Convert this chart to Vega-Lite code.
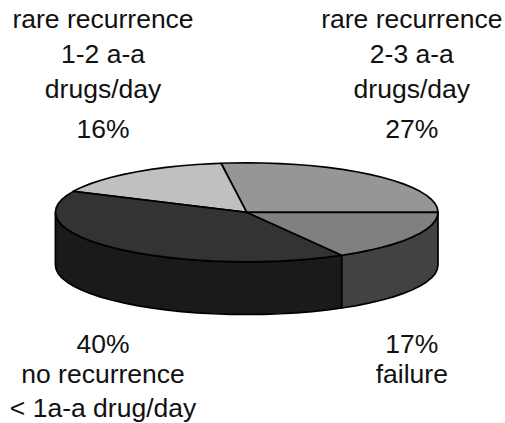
{"$schema":"https://vega.github.io/schema/vega-lite/v6.json","width":505,"height":423,"padding":0,"autosize":{"type":"fit","contains":"padding"},"background":"white","view":{"stroke":null},
"layer":[
{"data":{"values":[
{"part":"wall 40%","x":-1,"y":0},{"part":"wall 40%","x":-0.996,"y":-0.087},{"part":"wall 40%","x":-0.985,"y":-0.174},{"part":"wall 40%","x":-0.966,"y":-0.259},{"part":"wall 40%","x":-0.94,"y":-0.342},{"part":"wall 40%","x":-0.906,"y":-0.423},{"part":"wall 40%","x":-0.866,"y":-0.5},{"part":"wall 40%","x":-0.819,"y":-0.574},{"part":"wall 40%","x":-0.766,"y":-0.643},{"part":"wall 40%","x":-0.707,"y":-0.707},{"part":"wall 40%","x":-0.643,"y":-0.766},{"part":"wall 40%","x":-0.574,"y":-0.819},{"part":"wall 40%","x":-0.5,"y":-0.866},{"part":"wall 40%","x":-0.423,"y":-0.906},{"part":"wall 40%","x":-0.342,"y":-0.94},{"part":"wall 40%","x":-0.259,"y":-0.966},{"part":"wall 40%","x":-0.174,"y":-0.985},{"part":"wall 40%","x":-0.087,"y":-0.996},{"part":"wall 40%","x":0,"y":-1},{"part":"wall 40%","x":0.087,"y":-0.996},{"part":"wall 40%","x":0.174,"y":-0.985},{"part":"wall 40%","x":0.259,"y":-0.966},{"part":"wall 40%","x":0.342,"y":-0.94},{"part":"wall 40%","x":0.423,"y":-0.906},{"part":"wall 40%","x":0.497,"y":-0.868},
{"part":"wall 40%","x":0.497,"y":-1.933},{"part":"wall 40%","x":0.423,"y":-1.971},{"part":"wall 40%","x":0.342,"y":-2.005},{"part":"wall 40%","x":0.259,"y":-2.031},{"part":"wall 40%","x":0.174,"y":-2.05},{"part":"wall 40%","x":0.087,"y":-2.061},{"part":"wall 40%","x":0,"y":-2.065},{"part":"wall 40%","x":-0.087,"y":-2.061},{"part":"wall 40%","x":-0.174,"y":-2.05},{"part":"wall 40%","x":-0.259,"y":-2.031},{"part":"wall 40%","x":-0.342,"y":-2.005},{"part":"wall 40%","x":-0.423,"y":-1.971},{"part":"wall 40%","x":-0.5,"y":-1.931},{"part":"wall 40%","x":-0.574,"y":-1.884},{"part":"wall 40%","x":-0.643,"y":-1.831},{"part":"wall 40%","x":-0.707,"y":-1.772},{"part":"wall 40%","x":-0.766,"y":-1.708},{"part":"wall 40%","x":-0.819,"y":-1.639},{"part":"wall 40%","x":-0.866,"y":-1.565},{"part":"wall 40%","x":-0.906,"y":-1.488},{"part":"wall 40%","x":-0.94,"y":-1.407},{"part":"wall 40%","x":-0.966,"y":-1.324},{"part":"wall 40%","x":-0.985,"y":-1.239},{"part":"wall 40%","x":-0.996,"y":-1.152},{"part":"wall 40%","x":-1,"y":-1.065},{"part":"wall 40%","x":-1,"y":0},
{"part":"wall 17%","x":0.497,"y":-0.868},{"part":"wall 17%","x":0.574,"y":-0.819},{"part":"wall 17%","x":0.643,"y":-0.766},{"part":"wall 17%","x":0.707,"y":-0.707},{"part":"wall 17%","x":0.766,"y":-0.643},{"part":"wall 17%","x":0.819,"y":-0.574},{"part":"wall 17%","x":0.866,"y":-0.5},{"part":"wall 17%","x":0.906,"y":-0.423},{"part":"wall 17%","x":0.94,"y":-0.342},{"part":"wall 17%","x":0.966,"y":-0.259},{"part":"wall 17%","x":0.985,"y":-0.174},{"part":"wall 17%","x":0.996,"y":-0.087},{"part":"wall 17%","x":1,"y":0},
{"part":"wall 17%","x":1,"y":-1.065},{"part":"wall 17%","x":0.996,"y":-1.152},{"part":"wall 17%","x":0.985,"y":-1.239},{"part":"wall 17%","x":0.966,"y":-1.324},{"part":"wall 17%","x":0.94,"y":-1.407},{"part":"wall 17%","x":0.906,"y":-1.488},{"part":"wall 17%","x":0.866,"y":-1.565},{"part":"wall 17%","x":0.819,"y":-1.639},{"part":"wall 17%","x":0.766,"y":-1.708},{"part":"wall 17%","x":0.707,"y":-1.772},{"part":"wall 17%","x":0.643,"y":-1.831},{"part":"wall 17%","x":0.574,"y":-1.884},{"part":"wall 17%","x":0.497,"y":-1.933},{"part":"wall 17%","x":0.497,"y":-0.868},
{"part":"top 27%","x":0,"y":0},{"part":"top 27%","x":1,"y":0},{"part":"top 27%","x":0.996,"y":0.087},{"part":"top 27%","x":0.985,"y":0.174},{"part":"top 27%","x":0.966,"y":0.259},{"part":"top 27%","x":0.94,"y":0.342},{"part":"top 27%","x":0.906,"y":0.423},{"part":"top 27%","x":0.866,"y":0.5},{"part":"top 27%","x":0.819,"y":0.574},{"part":"top 27%","x":0.766,"y":0.643},{"part":"top 27%","x":0.707,"y":0.707},{"part":"top 27%","x":0.643,"y":0.766},{"part":"top 27%","x":0.574,"y":0.819},{"part":"top 27%","x":0.5,"y":0.866},{"part":"top 27%","x":0.423,"y":0.906},{"part":"top 27%","x":0.342,"y":0.94},{"part":"top 27%","x":0.259,"y":0.966},{"part":"top 27%","x":0.174,"y":0.985},{"part":"top 27%","x":0.087,"y":0.996},{"part":"top 27%","x":0,"y":1},{"part":"top 27%","x":-0.087,"y":0.996},{"part":"top 27%","x":-0.134,"y":0.991},{"part":"top 27%","x":0,"y":0},
{"part":"top 16%","x":0,"y":0},{"part":"top 16%","x":-0.134,"y":0.991},{"part":"top 16%","x":-0.174,"y":0.985},{"part":"top 16%","x":-0.259,"y":0.966},{"part":"top 16%","x":-0.342,"y":0.94},{"part":"top 16%","x":-0.423,"y":0.906},{"part":"top 16%","x":-0.5,"y":0.866},{"part":"top 16%","x":-0.574,"y":0.819},{"part":"top 16%","x":-0.643,"y":0.766},{"part":"top 16%","x":-0.707,"y":0.707},{"part":"top 16%","x":-0.766,"y":0.643},{"part":"top 16%","x":-0.819,"y":0.574},{"part":"top 16%","x":-0.866,"y":0.5},{"part":"top 16%","x":-0.906,"y":0.423},{"part":"top 16%","x":0,"y":0},
{"part":"top 40%","x":0,"y":0},{"part":"top 40%","x":-0.906,"y":0.423},{"part":"top 40%","x":-0.94,"y":0.342},{"part":"top 40%","x":-0.966,"y":0.259},{"part":"top 40%","x":-0.985,"y":0.174},{"part":"top 40%","x":-0.996,"y":0.087},{"part":"top 40%","x":-1,"y":0},{"part":"top 40%","x":-0.996,"y":-0.087},{"part":"top 40%","x":-0.985,"y":-0.174},{"part":"top 40%","x":-0.966,"y":-0.259},{"part":"top 40%","x":-0.94,"y":-0.342},{"part":"top 40%","x":-0.906,"y":-0.423},{"part":"top 40%","x":-0.866,"y":-0.5},{"part":"top 40%","x":-0.819,"y":-0.574},{"part":"top 40%","x":-0.766,"y":-0.643},{"part":"top 40%","x":-0.707,"y":-0.707},{"part":"top 40%","x":-0.643,"y":-0.766},{"part":"top 40%","x":-0.574,"y":-0.819},{"part":"top 40%","x":-0.5,"y":-0.866},{"part":"top 40%","x":-0.423,"y":-0.906},{"part":"top 40%","x":-0.342,"y":-0.94},{"part":"top 40%","x":-0.259,"y":-0.966},{"part":"top 40%","x":-0.174,"y":-0.985},{"part":"top 40%","x":-0.087,"y":-0.996},{"part":"top 40%","x":0,"y":-1},{"part":"top 40%","x":0.087,"y":-0.996},{"part":"top 40%","x":0.174,"y":-0.985},{"part":"top 40%","x":0.259,"y":-0.966},{"part":"top 40%","x":0.342,"y":-0.94},{"part":"top 40%","x":0.423,"y":-0.906},{"part":"top 40%","x":0.497,"y":-0.868},{"part":"top 40%","x":0,"y":0},
{"part":"top 17%","x":0,"y":0},{"part":"top 17%","x":0.497,"y":-0.868},{"part":"top 17%","x":0.574,"y":-0.819},{"part":"top 17%","x":0.643,"y":-0.766},{"part":"top 17%","x":0.707,"y":-0.707},{"part":"top 17%","x":0.766,"y":-0.643},{"part":"top 17%","x":0.819,"y":-0.574},{"part":"top 17%","x":0.866,"y":-0.5},{"part":"top 17%","x":0.906,"y":-0.423},{"part":"top 17%","x":0.94,"y":-0.342},{"part":"top 17%","x":0.966,"y":-0.259},{"part":"top 17%","x":0.985,"y":-0.174},{"part":"top 17%","x":0.996,"y":-0.087},{"part":"top 17%","x":1,"y":0},{"part":"top 17%","x":0,"y":0}
]},
"transform":[{"window":[{"op":"row_number","as":"seq"}]}],
"mark":{"type":"line","stroke":"#000000","strokeWidth":1.7,"strokeJoin":"round","clip":false},
"encoding":{
"x":{"field":"x","type":"quantitative","scale":{"domain":[-1.2896,1.3502],"nice":false,"zero":false},"axis":null},
"y":{"field":"y","type":"quantitative","scale":{"domain":[-4.257,4.289],"nice":false,"zero":false},"axis":null},
"order":{"field":"seq","type":"quantitative"},
"fill":{"field":"part","type":"nominal","legend":null,"scale":{"domain":["wall 40%","wall 17%","top 27%","top 16%","top 40%","top 17%"],"range":["#1a1a1a","#424242","#969696","#c0c0c0","#333333","#808080"]}}
}},
{"data":{"values":[
{"label":"rare recurrence","x":-0.751,"y":3.723},{"label":"1-2 a-a","x":-0.751,"y":3.016},{"label":"drugs/day","x":-0.751,"y":2.309},{"label":"16%","x":-0.751,"y":1.501},
{"label":"rare recurrence","x":0.863,"y":3.723},{"label":"2-3 a-a","x":0.863,"y":3.016},{"label":"drugs/day","x":0.863,"y":2.309},{"label":"27%","x":0.863,"y":1.501},
{"label":"40%","x":-0.751,"y":-2.842},{"label":"no recurrence","x":-0.751,"y":-3.448},{"label":"< 1a-a drug/day","x":-0.751,"y":-4.135},
{"label":"17%","x":0.863,"y":-2.842},{"label":"failure","x":0.863,"y":-3.448}
]},
"mark":{"type":"text","font":"Liberation Sans","fontSize":26.5,"align":"center","baseline":"alphabetic","color":"#111111"},
"encoding":{
"x":{"field":"x","type":"quantitative"},
"y":{"field":"y","type":"quantitative"},
"text":{"field":"label","type":"nominal"}
}}
]}
